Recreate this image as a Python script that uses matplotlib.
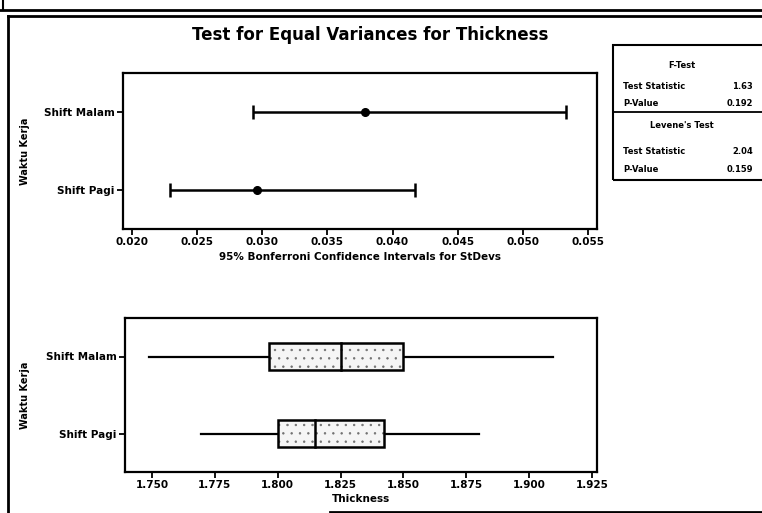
import matplotlib
matplotlib.use("Agg")
import matplotlib.pyplot as plt
from matplotlib.patches import Rectangle
from matplotlib.lines import Line2D

# groups (bottom to top on the y axis)
groups = ["Shift Pagi", "Shift Malam"]

# 95% Bonferroni intervals for the standard deviations
ci_lower = [0.0229, 0.0293]
ci_stdev = [0.0296, 0.0379]
ci_upper = [0.0417, 0.0533]

# box plot summaries of Thickness
whisker_lo = [1.7695, 1.7488]
q1 = [1.8002, 1.7966]
median = [1.8147, 1.8250]
q3 = [1.8422, 1.8497]
whisker_hi = [1.8801, 1.9096]

ci_ticks = [0.020, 0.025, 0.030, 0.035, 0.040, 0.045, 0.050, 0.055]
thick_ticks = [1.750, 1.775, 1.800, 1.825, 1.850, 1.875, 1.900, 1.925]

f_stat = "1.63"
f_pvalue = "0.192"
lev_stat = "2.04"
lev_pvalue = "0.159"

W, H = 762, 513
plt.rcParams["font.family"] = "DejaVu Sans"
plt.rcParams["hatch.linewidth"] = 0.5
fig = plt.figure(figsize=(W / 100, H / 100), dpi=100)


def px_axes(left, top, right, bottom):
    return fig.add_axes([left / W, 1 - bottom / H, (right - left) / W, (bottom - top) / H])


def style_axes(ax):
    for sp in ax.spines.values():
        sp.set_linewidth(1.6)
        sp.set_color("black")
    ax.tick_params(axis="both", direction="out", length=4, width=1.3,
                   labelsize=7.5, pad=2)
    for lab in ax.get_xticklabels() + ax.get_yticklabels():
        lab.set_fontweight("bold")


ypos = [1, 2]

# upper panel: confidence intervals for StDevs
ax1 = px_axes(123, 73, 597, 229)
for y, lo, s, hi in zip(ypos, ci_lower, ci_stdev, ci_upper):
    ax1.errorbar([s], [y], xerr=[[s - lo], [hi - s]], fmt="o", color="black",
                 ms=5.5, elinewidth=1.8, capsize=5, capthick=1.8)
ax1.set_xlim(0.0193, 0.0557)
ax1.set_ylim(0.5, 2.5)
ax1.set_xticks(ci_ticks)
ax1.set_xticklabels([f"{t:.3f}" for t in ci_ticks])
ax1.set_yticks(ypos)
ax1.set_yticklabels(groups)
ax1.set_xlabel("95% Bonferroni Confidence Intervals for StDevs",
               fontsize=7.5, fontweight="bold", labelpad=3)
style_axes(ax1)

# lower panel: box plots of Thickness
ax2 = px_axes(125, 318, 597, 472)
box_h = 0.35
for y, wl, a, m, b, wh in zip(ypos, whisker_lo, q1, median, q3, whisker_hi):
    ax2.plot([wl, a], [y, y], color="black", lw=1.6)
    ax2.plot([b, wh], [y, y], color="black", lw=1.6)
    # speckled fill, then the outline on top
    ax2.add_patch(Rectangle((a, y - box_h / 2), b - a, box_h, facecolor="#f5f5f5",
                            edgecolor="#707070", lw=0, hatch="..", zorder=3))
    ax2.add_patch(Rectangle((a, y - box_h / 2), b - a, box_h, fill=False,
                            edgecolor="black", lw=1.8, zorder=4))
    ax2.plot([m, m], [y - box_h / 2, y + box_h / 2], color="black", lw=1.8, zorder=5)
ax2.set_xlim(1.7393, 1.9270)
ax2.set_ylim(0.5, 2.5)
ax2.set_xticks(thick_ticks)
ax2.set_xticklabels([f"{t:.3f}" for t in thick_ticks])
ax2.set_yticks(ypos)
ax2.set_yticklabels(groups)
ax2.set_xlabel("Thickness", fontsize=7.5, fontweight="bold", labelpad=3)
style_axes(ax2)

for ax in (ax1, ax2):
    pos = ax.get_position()
    fig.text(25 / W, pos.y0 + pos.height / 2, "Waktu Kerja", rotation=90,
             ha="center", va="center", fontsize=7, fontweight="bold")

fig.text(370 / W, 1 - 35 / H, "Test for Equal Variances for Thickness",
         ha="center", va="center", fontsize=12, fontweight="bold")

# test results panel
fig.add_artist(Rectangle((613 / W, 1 - 180 / H), 160 / W, 135 / H,
                         transform=fig.transFigure, fill=False, lw=1.5, color="black"))
fig.add_artist(Line2D([613 / W, 1], [1 - 112 / H] * 2, transform=fig.transFigure,
                      lw=1.3, color="black"))
rows = [
    (65, "F-Test", None),
    (87, "Test Statistic", f_stat),
    (104, "P-Value", f_pvalue),
    (125, "Levene's Test", None),
    (152, "Test Statistic", lev_stat),
    (170, "P-Value", lev_pvalue),
]
for yy, label, val in rows:
    if val is None:
        fig.text(682 / W, 1 - yy / H, label, ha="center", va="center",
                 fontsize=6, fontweight="bold")
    else:
        fig.text(623 / W, 1 - yy / H, label, ha="left", va="center",
                 fontsize=6, fontweight="bold")
        fig.text(753 / W, 1 - yy / H, val, ha="right", va="center",
                 fontsize=6, fontweight="bold")

# page frame lines
fig.add_artist(Line2D([0, 1], [1 - 10 / H] * 2, transform=fig.transFigure, lw=2, color="black"))
fig.add_artist(Line2D([8 / W, 1], [1 - 16 / H] * 2, transform=fig.transFigure, lw=2, color="black"))
fig.add_artist(Line2D([8 / W, 8 / W], [0, 1 - 16 / H], transform=fig.transFigure, lw=2, color="black"))
fig.add_artist(Line2D([3 / W, 3 / W], [1 - 10 / H, 1], transform=fig.transFigure, lw=1.5, color="black"))
fig.add_artist(Line2D([330 / W, 1], [1 / H] * 2, transform=fig.transFigure, lw=2, color="black"))

fig.savefig("out.png", dpi=100)
